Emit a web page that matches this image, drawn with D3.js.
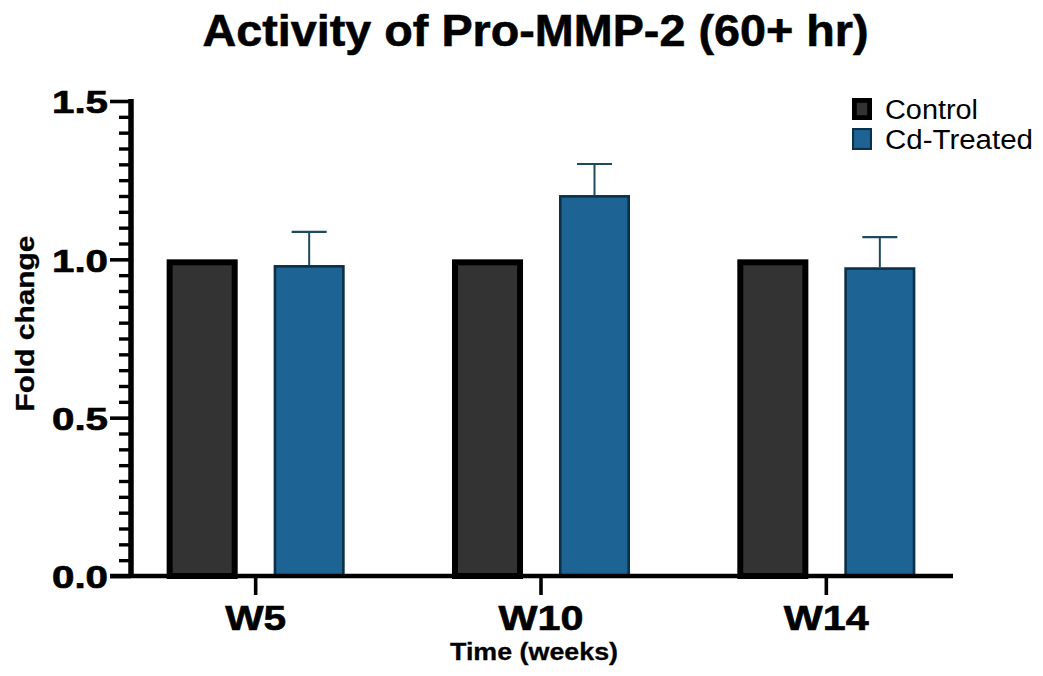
<!DOCTYPE html>
<html>
<head>
<meta charset="utf-8">
<script src="https://cdn.jsdelivr.net/npm/d3@7"></script>
<style>
  html, body { margin: 0; padding: 0; background: #fff; }
  svg { display: block; font-family: "Liberation Sans", Arial, sans-serif; }
</style>
</head>
<body>
<svg id="chart" width="1043" height="676"></svg>
<script>
// Fold change of Pro-MMP-2 activity by week
const weeks = ["W5", "W10", "W14"];
const seriesNames = ["Control", "Cd-Treated"];
const controlValues = [1.0, 1.0, 1.0];
const treatedValues = [0.982, 1.203, 0.975];
const treatedErrors = [0.105, 0.098, 0.095];
const yMajorTicks = [0, 0.5, 1.0, 1.5];

const colors = {
  "Control": { fill: "#333333", stroke: "#000000", sw: 6 },
  "Cd-Treated": { fill: "#1d6393", stroke: "#0c3048", sw: 2.6 }
};
const errColor = "#1f4a5e";

const svg = d3.select("#chart");

const y = d3.scaleLinear().domain([0, 1.5]).range([576, 101]);
const x = d3.scaleBand().domain(weeks).range([113, 969]).padding(0);
const xInner = d3.scaleBand().domain(seriesNames).range([-107, 107])
  .paddingInner(0.336).paddingOuter(0.168);

const rows = weeks.map((w, i) => ({
  week: w,
  bars: [
    { series: "Control", value: controlValues[i], err: null },
    { series: "Cd-Treated", value: treatedValues[i], err: treatedErrors[i] }
  ]
}));

// Bars (stroke kept inside the bar outline)
const groups = svg.append("g").selectAll("g").data(rows).join("g")
  .attr("transform", d => `translate(${x(d.week) + x.bandwidth() / 2},0)`);

groups.selectAll("rect").data(d => d.bars).join("rect")
  .attr("x", d => xInner(d.series) + colors[d.series].sw / 2)
  .attr("width", d => xInner.bandwidth() - colors[d.series].sw)
  .attr("y", d => y(d.value) + colors[d.series].sw / 2)
  .attr("height", d => y(0) - y(d.value) - colors[d.series].sw / 2)
  .attr("fill", d => colors[d.series].fill)
  .attr("stroke", d => colors[d.series].stroke)
  .attr("stroke-width", d => colors[d.series].sw);

// Upper error bars
const errs = groups.selectAll("g.err").data(d => d.bars.filter(b => b.err != null)).join("g")
  .attr("class", "err")
  .attr("transform", d => `translate(${xInner(d.series) + xInner.bandwidth() / 2},0)`);
errs.append("line")
  .attr("x1", 0).attr("x2", 0)
  .attr("y1", d => y(d.value)).attr("y2", d => y(d.value + d.err))
  .attr("stroke", errColor).attr("stroke-width", 2);
errs.append("line")
  .attr("x1", -17.5).attr("x2", 17.5)
  .attr("y1", d => y(d.value + d.err)).attr("y2", d => y(d.value + d.err))
  .attr("stroke", errColor).attr("stroke-width", 2.2);

// Y axis: minor ticks every 0.05, major ticks every 0.5
const axisX = 131;
const minorTicks = d3.range(0, 1.5001, 0.05).filter(v => Math.abs(v * 2 - Math.round(v * 2)) > 1e-6);
const yMinor = svg.append("g").attr("transform", `translate(${axisX},0)`)
  .call(d3.axisLeft(y).tickValues(minorTicks).tickSize(12).tickFormat(""));
yMinor.select(".domain").remove();
yMinor.selectAll(".tick line").attr("stroke", "#000").attr("stroke-width", 3.4);

const yMajor = svg.append("g").attr("transform", `translate(${axisX},0)`)
  .call(d3.axisLeft(y).tickValues(yMajorTicks).tickSize(21).tickPadding(3).tickFormat(d3.format(".1f")));
yMajor.select(".domain").remove();
yMajor.selectAll(".tick line").attr("stroke", "#000").attr("stroke-width", 3.6);
yMajor.selectAll(".tick text")
  .attr("x", -23).attr("dy", "0.37em")
  .attr("font-size", 32).attr("font-weight", "bold").attr("fill", "#000")
  .attr("stroke", "#000").attr("stroke-width", 0.7)
  .attr("textLength", 56).attr("lengthAdjust", "spacingAndGlyphs");

svg.append("line")
  .attr("x1", axisX).attr("x2", axisX)
  .attr("y1", y(1.5) - 2).attr("y2", y(0))
  .attr("stroke", "#000").attr("stroke-width", 5.5);

// X axis
const xAxis = svg.append("g").attr("transform", `translate(0,${y(0)})`)
  .call(d3.axisBottom(x).tickSize(19).tickPadding(10));
xAxis.select(".domain").remove();
xAxis.selectAll(".tick line").attr("stroke", "#000").attr("stroke-width", 3.6);
xAxis.selectAll(".tick text")
  .attr("y", 54).attr("dy", 0)
  .attr("font-size", 35).attr("font-weight", "bold").attr("fill", "#000")
  .attr("stroke", "#000").attr("stroke-width", 0.6)
  .attr("textLength", d => d.length === 2 ? 61 : 85).attr("lengthAdjust", "spacingAndGlyphs");

svg.append("line")
  .attr("x1", 110).attr("x2", 953)
  .attr("y1", y(0)).attr("y2", y(0))
  .attr("stroke", "#000").attr("stroke-width", 4.5);

// Title and axis titles
svg.append("text")
  .attr("x", 535.5).attr("y", 46)
  .attr("text-anchor", "middle")
  .attr("font-size", 45).attr("font-weight", "bold")
  .attr("stroke", "#000").attr("stroke-width", 0.6)
  .attr("textLength", 666).attr("lengthAdjust", "spacingAndGlyphs")
  .text("Activity of Pro-MMP-2 (60+ hr)");

svg.append("text")
  .attr("x", 534).attr("y", 660)
  .attr("text-anchor", "middle")
  .attr("font-size", 23).attr("font-weight", "bold")
  .attr("stroke", "#000").attr("stroke-width", 0.3)
  .attr("textLength", 168).attr("lengthAdjust", "spacingAndGlyphs")
  .text("Time (weeks)");

svg.append("text")
  .attr("transform", "translate(34,323.5) rotate(-90)")
  .attr("text-anchor", "middle")
  .attr("font-size", 25).attr("font-weight", "bold")
  .attr("stroke", "#000").attr("stroke-width", 0.3)
  .attr("textLength", 176).attr("lengthAdjust", "spacingAndGlyphs")
  .text("Fold change");

// Legend
const legend = svg.append("g").selectAll("g").data(seriesNames).join("g")
  .attr("transform", (d, i) => `translate(852,${98 + i * 30})`);
legend.append("rect")
  .attr("x", d => colors[d].sw / 2 * 0.8)
  .attr("y", d => colors[d].sw / 2 * 0.8)
  .attr("width", d => 20 - colors[d].sw * 0.8)
  .attr("height", d => 22 - colors[d].sw * 0.8)
  .attr("fill", d => colors[d].fill)
  .attr("stroke", d => colors[d].stroke)
  .attr("stroke-width", d => colors[d].sw * 0.8);
legend.append("text")
  .attr("x", 33).attr("y", 21)
  .attr("font-size", 27)
  .attr("textLength", d => d === "Control" ? 93 : 148)
  .attr("lengthAdjust", "spacingAndGlyphs")
  .text(d => d);
</script>
</body>
</html>
